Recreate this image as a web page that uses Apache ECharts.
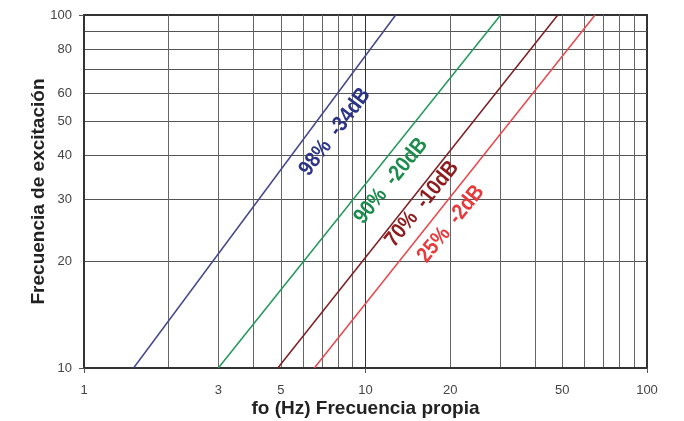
<!DOCTYPE html>
<html>
<head>
<meta charset="utf-8">
<script src="https://cdn.jsdelivr.net/npm/echarts@6/dist/echarts.min.js"></script>
<style>html,body{margin:0;padding:0;background:#fff}#c{width:684px;height:421px}</style>
</head>
<body>
<div id="c"></div>
<script>
// Tick labels
const xTickLabels = [1, 3, 5, 10, 20, 50, 100];
const yTickLabels = [10, 20, 30, 40, 50, 60, 80, 100];
// Series (fo, excitation frequency)
const s98 = [[1.5, 10], [12.8, 100]];
const s90 = [[3.0, 10], [30.2, 100]];
const s70 = [[4.88, 10], [48.2, 100]];
const s25 = [[6.58, 10], [65.4, 100]];
const seriesNames = ['98%  -34dB', '90%  -20dB', '70%  -10dB', '25%  -2dB'];

const chart = echarts.init(document.getElementById('c'));
const FONT = 'Liberation Sans, Arial, sans-serif';
function mkLine(name, data, color) {
  return { name, type: 'line', data, symbol: 'none', silent: true,
    lineStyle: { color, width: 1.5 }, z: 5 };
}
function lbl(text, x, y, deg, color) {
  return { type: 'text', x, y, rotation: deg * Math.PI / 180, scaleX: 0.88, z: 10,
    style: { text, fill: color, font: 'bold 22px ' + FONT,
      textAlign: 'center', textVerticalAlign: 'middle' } };
}
chart.setOption({
  animation: false,
  backgroundColor: '#fff',
  grid: { left: 84, right: 37, top: 15, bottom: 53, show: true, outerBoundsMode: 'none',
    containLabel: false,
    borderColor: '#333', borderWidth: 2, backgroundColor: 'transparent' },
  xAxis: {
    type: 'log', logBase: 10, min: 1, max: 100,
    name: 'fo (Hz) Frecuencia propia', nameLocation: 'middle', nameGap: 31, nameMoveOverlap: false,
    nameTextStyle: { fontFamily: FONT, fontWeight: 'bold', fontSize: 19, color: '#222' },
    axisLine: { show: true, lineStyle: { color: '#333', width: 2 } },
    axisTick: { show: true, length: 5, lineStyle: { color: '#555' } },
    axisLabel: { customValues: xTickLabels, fontFamily: FONT, fontSize: 13, color: '#444', margin: 16 },
    splitLine: { show: true, lineStyle: { color: '#333', width: 1 } },
    minorTick: { show: false, splitNumber: 9 },
    minorSplitLine: { show: true, lineStyle: { color: '#666', width: 1 } }
  },
  yAxis: {
    type: 'log', logBase: 10, min: 10, max: 100,
    name: 'Frecuencia de excitación', nameLocation: 'middle', nameGap: 36, nameMoveOverlap: false,
    nameTextStyle: { fontFamily: FONT, fontWeight: 'bold', fontSize: 19, color: '#222' },
    axisLine: { show: true, lineStyle: { color: '#333', width: 2 } },
    axisTick: { show: true, length: 5, lineStyle: { color: '#555' } },
    axisLabel: { customValues: yTickLabels, fontFamily: FONT, fontSize: 13, color: '#444', margin: 12 },
    splitLine: { show: true, lineStyle: { color: '#333', width: 1 } },
    minorTick: { show: false, splitNumber: 9 },
    minorSplitLine: { show: true, lineStyle: { color: '#555', width: 1 } }
  },
  series: [
    mkLine(seriesNames[0], s98, '#45458c'),
    mkLine(seriesNames[1], s90, '#22985c'),
    mkLine(seriesNames[2], s70, '#7c1e22'),
    mkLine(seriesNames[3], s25, '#e8474c')
  ],
  graphic: [
    lbl(seriesNames[0], 335, 132, 53, '#2c3585'),
    lbl(seriesNames[1], 391, 181, 51, '#1b8c4c'),
    lbl(seriesNames[2], 422, 204, 51, '#8c1c1e'),
    lbl(seriesNames[3], 451, 224, 51, '#e83a3c')
  ]
});
</script>
</body>
</html>
